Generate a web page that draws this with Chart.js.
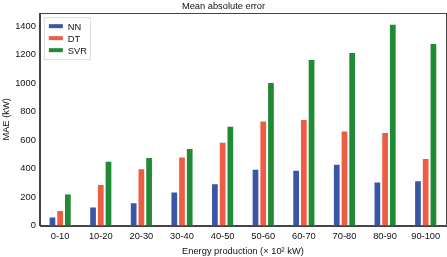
<!DOCTYPE html>
<html>
<head>
<meta charset="utf-8">
<script src="https://cdn.jsdelivr.net/npm/chart.js@4/dist/chart.umd.min.js"></script>
<style>
  html, body { margin: 0; padding: 0; background: #fff; }
  #wrap { width: 447px; height: 257px; }
</style>
</head>
<body>
<div id="wrap"><canvas id="chart"></canvas></div>
<script>
// categories and values
var bins = ['0-10', '10-20', '20-30', '30-40', '40-50', '50-60', '60-70', '70-80', '80-90', '90-100'];
var nnMAE = [65, 135, 165, 240, 298, 400, 392, 435, 310, 318];
var dtMAE = [110, 293, 402, 485, 588, 737, 748, 668, 657, 475];
var svrMAE = [225, 455, 482, 545, 700, 1008, 1168, 1218, 1415, 1280];
var yTicks = [0, 200, 400, 600, 800, 1000, 1200, 1400];

var FONT = 'Liberation Sans, Arial, sans-serif';
var FS = 9.3;
var TXT = '#111';

// box round the plot plus the legend drawn inside the top-left corner
const framePlugin = {
    id: 'frame',
    afterDraw(chart)
    {
        const ctx = chart.ctx, a = chart.chartArea;
        ctx.save();
        ctx.strokeStyle = '#444';
        ctx.lineWidth = 1;
        ctx.strokeRect(Math.round(a.left) + 0.5, Math.round(a.top) + 0.5,
                       Math.round(a.right - a.left), Math.round(a.bottom - a.top));

        // legend
        const x = a.left + 4, y = a.top + 4;
        ctx.fillStyle = 'rgba(255,255,255,0.9)';
        ctx.strokeStyle = '#ddd';
        ctx.fillRect(x, y, 46, 42);
        ctx.strokeRect(x + 0.5, y + 0.5, 46, 42);
        ctx.font = FS + 'px ' + FONT;
        ctx.textBaseline = 'middle';
        chart.data.datasets.forEach(function (ds, i) {
            const ly = y + 9 + i * 12;
            ctx.fillStyle = ds.backgroundColor;
            ctx.fillRect(x + 5, ly - 2, 14, 4);
            ctx.fillStyle = TXT;
            ctx.fillText(ds.label, x + 24, ly + 1);
        });
        ctx.restore();
    }
};

const mk = (label, data, color) => ({
    label: label,
    data: data,
    backgroundColor: color,
    borderColor: 'rgba(255,255,255,0.4)',
    borderWidth: 1,
    categoryPercentage: 0.57,
    barPercentage: 1.0
});

new Chart(document.getElementById('chart'), {
    type: 'bar',
    data: {
        labels: bins,
        datasets: [
            mk('NN', nnMAE, '#3a56a6'),
            mk('DT', dtMAE, '#ee5c44'),
            mk('SVR', svrMAE, '#208a35')
        ]
    },
    options: {
        responsive: true,
        maintainAspectRatio: false,
        animation: false,
        layout: { padding: { top: 1, right: 1, bottom: 0, left: 1 } },
        plugins: {
            legend: { display: false },
            tooltip: { enabled: false },
            title: {
                display: true,
                text: 'Mean absolute error',
                color: TXT,
                font: { family: FONT, size: FS, weight: 'normal' },
                padding: { top: 0, bottom: 1 }
            }
        },
        scales: {
            x: {
                offset: true,
                grid: { display: false, drawTicks: true, tickLength: 3, color: '#444' },
                border: { display: true, color: '#444' },
                ticks: { color: TXT, font: { family: FONT, size: FS }, maxRotation: 0, autoSkip: false, padding: 2 },
                title: {
                    display: true,
                    text: 'Energy production (× 10² kW)',
                    color: TXT,
                    font: { family: FONT, size: FS },
                    padding: { top: 2, bottom: 0 }
                }
            },
            y: {
                min: 0,
                max: 1490,
                afterBuildTicks: function (axis) { axis.ticks = yTicks.map(v => ({ value: v })); },
                grid: { display: false, drawTicks: true, tickLength: 3, color: '#444' },
                border: { display: true, color: '#444' },
                ticks: { color: TXT, font: { family: FONT, size: FS }, padding: 1,
                         callback: function (v) { return String(v); } },
                title: {
                    display: true,
                    text: 'MAE (kW)',
                    color: TXT,
                    font: { family: FONT, size: FS },
                    padding: { top: 0, bottom: 2 }
                }
            }
        }
    },
    plugins: [framePlugin]
});
</script>
</body>
</html>
